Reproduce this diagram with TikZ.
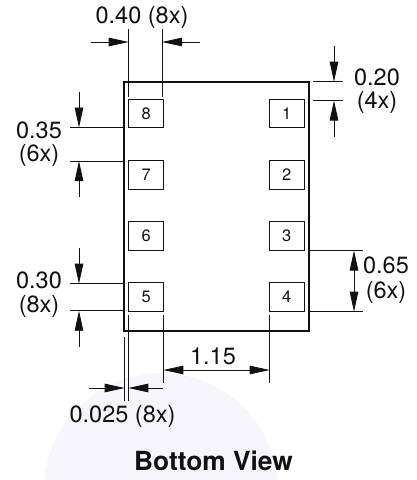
\documentclass[tikz,border=0pt]{standalone}
\usepackage{fontspec}
\setmainfont{TeX Gyre Heros}
\usetikzlibrary{arrows.meta}
\definecolor{blob}{HTML}{F5F5FB}
\definecolor{ink}{HTML}{111111}
\tikzset{
  x=1pt,y=-1pt,
  package/.style={draw=ink,line width=2pt},
  pad/.style={draw=ink,line width=1pt,minimum width=35.5pt,minimum height=28.5pt,inner sep=0pt,font=\fontsize{16.5}{18}\selectfont,text=ink},
  thin line/.style={draw=ink,line width=0.9pt},
  dim/.style={draw=ink,line width=0.9pt,-{Triangle[length=20pt,width=8.5pt]}},
  dimboth/.style={draw=ink,line width=0.9pt,{Triangle[length=20pt,width=8.5pt]}-{Triangle[length=20pt,width=8.5pt]}},
  label/.style={anchor=base,inner sep=0pt,align=center,text=ink,font=\fontsize{23.5}{#1}\selectfont},
  label/.default=23
}
\begin{document}
\begin{tikzpicture}
\useasboundingbox (0,0) rectangle (417,480);
% faint background shape
\begin{scope}
\clip (0,0) rectangle (417,480);
\fill[blob] (161,490) circle [radius=117];
\end{scope}
% package
\draw[package] (124,81.5) rectangle (308.5,330.7);
% pads
\node[pad] (p8) at (146.2,113.7) {8};
\node[pad] (p7) at (146.2,175) {7};
\node[pad] (p6) at (146.2,236) {6};
\node[pad] (p5) at (146.2,297) {5};
\node[pad] (p1) at (286.8,113.7) {1};
\node[pad] (p2) at (286.8,175) {2};
\node[pad] (p3) at (286.8,236) {3};
\node[pad] (p4) at (286.8,297) {4};
% 0.40
\draw[thin line] (128.7,29) -- (128.7,97);
\draw[thin line] (162,29) -- (162,97);
\draw[dim] (91,42) -- (128.7,42);
\draw[dim] (199.5,42) -- (162,42);
\node[label] (t040) at (142,23) {0.40 (8x)};
% 0.35
\draw[thin line] (70,127.5) -- (124,127.5);
\draw[thin line] (70,161) -- (124,161);
\draw[dim] (79,92) -- (79,127.5);
\draw[dim] (79,197) -- (79,161);
\node[label] (t035) at (39,161) {0.35\\(6x)};
% 0.30
\draw[thin line] (70,283.7) -- (124,283.7);
\draw[thin line] (70,310.7) -- (124,310.7);
\draw[dim] (79,248) -- (79,283.7);
\draw[dim] (79,346.7) -- (79,310.7);
\node[label=24] (t030) at (39,312) {0.30\\(8x)};
% 0.20
\draw[thin line] (312.7,81.7) -- (343,81.7);
\draw[thin line] (312.7,100.5) -- (343,100.5);
\draw[dim] (334,46) -- (334,81.7);
\draw[dim] (334,136.5) -- (334,100.5);
\node[label] (t020) at (377,108) {0.20\\(4x)};
% 0.65
\draw[thin line] (309,250.5) -- (363,250.5);
\draw[thin line] (309,311.7) -- (363,311.7);
\draw[dimboth] (354,250.5) -- (354,311.7);
\node[label=25] (t065) at (386,298) {0.65\\(6x)};
% 0.025
\draw[thin line] (124.7,337) -- (124.7,401);
\draw[thin line] (128.3,315) -- (128.3,401);
\draw[thin line] (163.3,315) -- (163.3,383);
\draw[dim] (89,388) -- (124.7,388);
\draw[dim] (163.3,388) -- (128.3,388);
\node[label] (t025) at (122.5,422) {0.025 (8x)};
% 1.15
\draw[thin line] (269.7,315) -- (269.7,382.7);
\draw[dimboth] (163.3,370) -- (269.7,370);
\node[label] (t115) at (213,364) {1.15};
% title
\node[anchor=base,inner sep=0pt,text=ink,font=\fontsize{26.3}{28}\selectfont\bfseries] (title) at (213.5,470) {Bottom View};
\end{tikzpicture}
\end{document}
